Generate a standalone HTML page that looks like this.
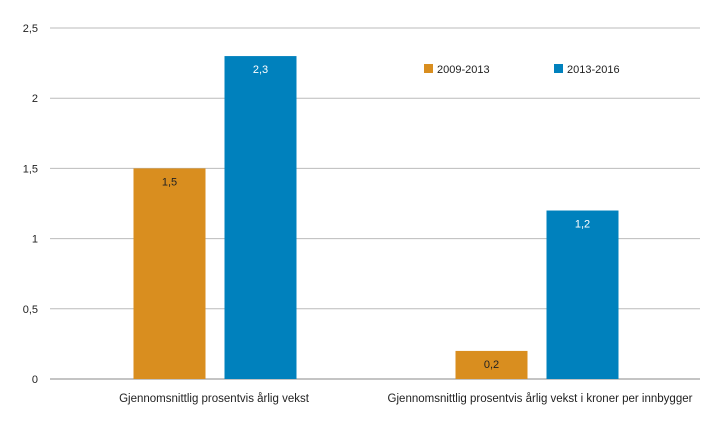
<!DOCTYPE html>
<html><head><meta charset="utf-8"><style>
body{margin:0;background:#fff;}
svg text{font-family:"Liberation Sans",sans-serif;}
</style></head><body>
<svg id="chart" width="719" height="425" xmlns="http://www.w3.org/2000/svg"></svg>
<script>
const categories = ["Gjennomsnittlig prosentvis årlig vekst", "Gjennomsnittlig prosentvis årlig vekst i kroner per innbygger"];
const series1 = [1.5, 0.2];
const series2 = [2.3, 1.2];
const seriesNames = ["2009-2013", "2013-2016"];
const yTicks = [0, 0.5, 1, 1.5, 2, 2.5];
const yTickLabels = ["0", "0,5", "1", "1,5", "2", "2,5"];

const svg = document.getElementById('chart');
const NS = "http://www.w3.org/2000/svg";
const x0 = 50, x1 = 700, yBase = 379, yTop = 28, yMax = 2.5;
const colors = ["#d98e1f", "#0081bd"];
function y(v){ return yBase - v/yMax*(yBase-yTop); }
function groupCenter(i){ return 215 + i*(537-215); }
function labelCenter(i){ return 214 + i*(540-214); }
function mk(tag, attrs){ const e=document.createElementNS(NS,tag); for(const k in attrs) e.setAttribute(k,attrs[k]); svg.appendChild(e); return e; }

yTicks.forEach((t,i)=>{
  const g = mk('line',{x1:x0,x2:x1,y1:y(t),y2:y(t),stroke: t===0?'#888':'#bbb','stroke-width':1});
  
  
  const tx = mk('text',{x:38,y:y(t)+4,'text-anchor':'end','font-size':11,fill:'#222'});
  tx.textContent = yTickLabels[i];
  
  
});

const bw = 72, gap = 19;
[series1, series2].forEach((s,si)=>{
  s.forEach((v,ci)=>{
    const cx = groupCenter(ci);
    const bx = si===0 ? cx - gap/2 - bw : cx + gap/2;
    const r = mk('rect',{x:bx,y:y(v),width:bw,height:yBase-y(v),fill:colors[si]});
    
    
    const t = mk('text',{x:bx+bw/2,y:y(v)+17,'text-anchor':'middle','font-size':11,fill: si===0?'#222':'#fff'});
    t.textContent = String(v).replace('.',',');
    
    
  });
});

categories.forEach((c,i)=>{
  const t = mk('text',{x:labelCenter(i),y:402,'text-anchor':'middle','font-size':11.5,fill:'#222'});
  t.textContent = c;
  
  
});

const legX = [424, 554];
seriesNames.forEach((n,i)=>{
  const r = mk('rect',{x:legX[i],y:64,width:9,height:9,fill:colors[i]});
  
  
  const t = mk('text',{x:legX[i]+13,y:73,'font-size':11,fill:'#222'});
  t.textContent = n;
  
  
});
</script>
</body></html>
